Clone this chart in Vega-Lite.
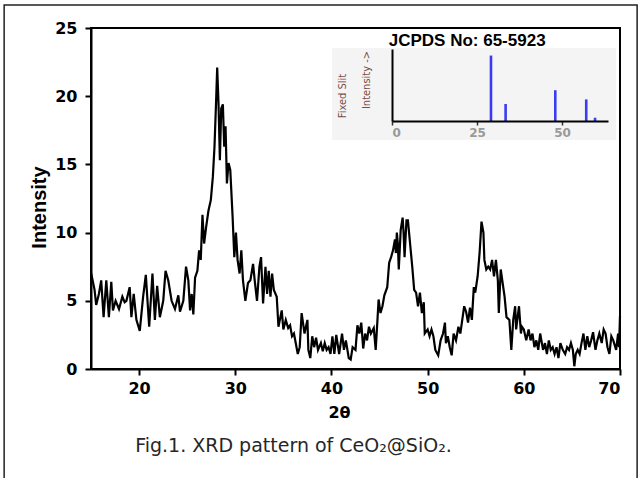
{
  "$schema": "https://vega.github.io/schema/vega-lite/v6.json",
  "width": 529,
  "height": 341,
  "autosize": "none",
  "padding": {"left": 91, "top": 28, "right": 20, "bottom": 109},
  "background": "white",
  "config": {"view": {"stroke": "black", "strokeWidth": 2}},
  "layer": [
    {
      "layer": [
        {
          "data": {"values": [
            {"t":15.02,"i":7.0},{"t":15.37,"i":5.8},{"t":15.54,"i":4.7},{"t":15.82,"i":5.5},{"t":16.06,"i":6.5},{"t":16.31,"i":3.8},{"t":16.59,"i":6.5},{"t":16.86,"i":3.8},{"t":17.11,"i":6.4},{"t":17.28,"i":4.3},{"t":17.56,"i":5.0},{"t":17.91,"i":4.4},{"t":18.26,"i":5.3},{"t":18.5,"i":4.9},{"t":18.68,"i":5.0},{"t":19.02,"i":6.0},{"t":19.2,"i":3.8},{"t":19.44,"i":5.5},{"t":19.72,"i":3.6},{"t":20.07,"i":2.8},{"t":20.42,"i":5.3},{"t":20.7,"i":6.9},{"t":21.05,"i":3.1},{"t":21.39,"i":7.0},{"t":21.64,"i":3.6},{"t":21.88,"i":6.1},{"t":22.16,"i":3.8},{"t":22.51,"i":5.0},{"t":22.75,"i":7.2},{"t":23.03,"i":6.5},{"t":23.38,"i":5.0},{"t":23.73,"i":4.4},{"t":24.08,"i":5.4},{"t":24.25,"i":4.2},{"t":24.6,"i":5.0},{"t":24.88,"i":7.5},{"t":25.12,"i":6.5},{"t":25.3,"i":4.3},{"t":25.47,"i":5.5},{"t":25.64,"i":4.0},{"t":25.82,"i":6.7},{"t":26.06,"i":7.2},{"t":26.24,"i":8.7},{"t":26.41,"i":8.0},{"t":26.59,"i":11.3},{"t":26.76,"i":9.2},{"t":26.97,"i":10.4},{"t":27.21,"i":11.6},{"t":27.46,"i":12.4},{"t":27.67,"i":14.1},{"t":27.84,"i":16.3},{"t":28.01,"i":19.7},{"t":28.12,"i":22.1},{"t":28.26,"i":19.4},{"t":28.4,"i":15.3},{"t":28.54,"i":19.1},{"t":28.71,"i":19.4},{"t":28.85,"i":16.3},{"t":28.99,"i":17.8},{"t":29.13,"i":13.6},{"t":29.3,"i":15.1},{"t":29.48,"i":14.6},{"t":29.72,"i":11.2},{"t":29.9,"i":8.2},{"t":30.07,"i":10.0},{"t":30.24,"i":8.0},{"t":30.45,"i":7.0},{"t":30.63,"i":8.7},{"t":30.8,"i":6.5},{"t":31.05,"i":5.0},{"t":31.32,"i":6.3},{"t":31.57,"i":6.5},{"t":31.85,"i":7.7},{"t":32.02,"i":6.5},{"t":32.26,"i":5.0},{"t":32.51,"i":7.5},{"t":32.68,"i":8.2},{"t":32.89,"i":4.8},{"t":33.14,"i":7.5},{"t":33.31,"i":5.5},{"t":33.48,"i":7.2},{"t":33.66,"i":5.3},{"t":33.83,"i":7.0},{"t":34.01,"i":5.8},{"t":34.31,"i":5.3},{"t":34.49,"i":3.1},{"t":34.83,"i":4.3},{"t":35.0,"i":2.9},{"t":35.25,"i":3.6},{"t":35.5,"i":3.0},{"t":35.7,"i":3.2},{"t":35.9,"i":2.4},{"t":36.1,"i":2.6},{"t":36.5,"i":1.1},{"t":36.7,"i":1.6},{"t":36.9,"i":4.1},{"t":37.2,"i":2.6},{"t":37.5,"i":3.6},{"t":37.6,"i":1.4},{"t":37.8,"i":0.8},{"t":38.0,"i":2.4},{"t":38.2,"i":1.6},{"t":38.4,"i":2.3},{"t":38.6,"i":1.4},{"t":38.9,"i":1.9},{"t":39.1,"i":1.3},{"t":39.3,"i":1.9},{"t":39.5,"i":1.4},{"t":39.7,"i":1.6},{"t":39.9,"i":1.1},{"t":40.1,"i":2.4},{"t":40.3,"i":1.1},{"t":40.5,"i":2.5},{"t":40.8,"i":1.1},{"t":41.1,"i":2.6},{"t":41.3,"i":1.4},{"t":41.5,"i":2.1},{"t":41.8,"i":0.8},{"t":42.0,"i":0.7},{"t":42.2,"i":1.6},{"t":42.5,"i":1.4},{"t":42.7,"i":3.2},{"t":42.9,"i":2.6},{"t":43.1,"i":3.4},{"t":43.3,"i":1.5},{"t":43.5,"i":2.6},{"t":43.7,"i":2.1},{"t":43.9,"i":3.1},{"t":44.1,"i":2.6},{"t":44.4,"i":3.0},{"t":44.6,"i":1.4},{"t":44.8,"i":3.8},{"t":44.9,"i":5.1},{"t":45.1,"i":4.1},{"t":45.3,"i":4.6},{"t":45.5,"i":5.4},{"t":45.8,"i":6.0},{"t":46.0,"i":7.8},{"t":46.2,"i":8.2},{"t":46.4,"i":8.7},{"t":46.6,"i":9.5},{"t":46.7,"i":8.5},{"t":46.8,"i":10.0},{"t":46.9,"i":9.2},{"t":47.0,"i":7.3},{"t":47.2,"i":10.2},{"t":47.4,"i":11.1},{"t":47.5,"i":10.0},{"t":47.6,"i":8.2},{"t":47.8,"i":10.9},{"t":47.95,"i":10.9},{"t":48.2,"i":9.0},{"t":48.4,"i":7.5},{"t":48.6,"i":5.8},{"t":48.8,"i":5.6},{"t":49.0,"i":4.6},{"t":49.2,"i":5.6},{"t":49.4,"i":4.1},{"t":49.6,"i":4.9},{"t":49.7,"i":2.6},{"t":50.0,"i":2.9},{"t":50.2,"i":2.4},{"t":50.4,"i":2.9},{"t":50.6,"i":2.4},{"t":50.8,"i":1.4},{"t":51.1,"i":1.0},{"t":51.35,"i":2.1},{"t":51.6,"i":2.6},{"t":51.8,"i":3.4},{"t":51.9,"i":1.9},{"t":52.1,"i":2.4},{"t":52.3,"i":1.6},{"t":52.5,"i":1.0},{"t":52.7,"i":2.6},{"t":52.95,"i":2.1},{"t":53.2,"i":3.1},{"t":53.4,"i":2.6},{"t":53.6,"i":3.6},{"t":53.8,"i":4.6},{"t":54.0,"i":4.2},{"t":54.2,"i":3.4},{"t":54.4,"i":4.5},{"t":54.6,"i":3.6},{"t":54.8,"i":6.0},{"t":54.95,"i":5.6},{"t":55.2,"i":6.8},{"t":55.4,"i":8.5},{"t":55.6,"i":10.8},{"t":55.8,"i":10.0},{"t":55.9,"i":8.0},{"t":56.1,"i":7.3},{"t":56.3,"i":7.5},{"t":56.5,"i":7.3},{"t":56.7,"i":8.0},{"t":56.9,"i":6.8},{"t":57.1,"i":8.0},{"t":57.3,"i":6.5},{"t":57.4,"i":4.1},{"t":57.6,"i":7.3},{"t":57.8,"i":6.3},{"t":58.0,"i":5.3},{"t":58.2,"i":3.8},{"t":58.5,"i":3.6},{"t":58.7,"i":1.4},{"t":58.9,"i":3.6},{"t":59.1,"i":4.6},{"t":59.2,"i":2.9},{"t":59.5,"i":4.6},{"t":59.7,"i":2.6},{"t":59.8,"i":3.1},{"t":60.0,"i":2.9},{"t":60.25,"i":2.1},{"t":60.5,"i":2.9},{"t":60.7,"i":2.1},{"t":60.9,"i":2.6},{"t":61.1,"i":1.6},{"t":61.3,"i":2.1},{"t":61.5,"i":1.4},{"t":61.7,"i":2.6},{"t":62.0,"i":1.4},{"t":62.2,"i":1.9},{"t":62.4,"i":1.1},{"t":62.6,"i":2.1},{"t":62.8,"i":1.4},{"t":63.0,"i":1.6},{"t":63.2,"i":1.1},{"t":63.4,"i":1.6},{"t":63.6,"i":0.8},{"t":63.8,"i":1.9},{"t":64.05,"i":1.4},{"t":64.3,"i":1.1},{"t":64.5,"i":1.6},{"t":64.7,"i":1.4},{"t":64.9,"i":1.9},{"t":65.1,"i":1.4},{"t":65.25,"i":0.2},{"t":65.4,"i":1.1},{"t":65.6,"i":1.4},{"t":65.8,"i":1.1},{"t":66.0,"i":1.9},{"t":66.2,"i":2.6},{"t":66.4,"i":1.4},{"t":66.6,"i":2.4},{"t":66.8,"i":1.6},{"t":67.0,"i":2.1},{"t":67.2,"i":2.7},{"t":67.45,"i":1.4},{"t":67.65,"i":2.1},{"t":67.85,"i":2.6},{"t":68.1,"i":1.9},{"t":68.3,"i":2.9},{"t":68.5,"i":2.6},{"t":68.7,"i":1.6},{"t":68.9,"i":1.1},{"t":69.1,"i":2.4},{"t":69.3,"i":2.1},{"t":69.6,"i":1.4},{"t":69.8,"i":2.6},{"t":69.9,"i":1.6},{"t":70.0,"i":3.9}
          ]},
          "mark": {"type": "line", "color": "black", "strokeWidth": 2.2},
          "encoding": {
            "x": {"field": "t", "type": "quantitative",
              "scale": {"domain": [15, 70], "nice": false, "zero": false},
              "axis": {"orient": "bottom", "values": [20, 30, 40, 50, 60, 70], "grid": false,
                "domainColor": "black", "domainWidth": 2, "tickColor": "black", "tickWidth": 2, "tickSize": 6,
                "labelFont": "DejaVu Sans", "labelFontSize": 16, "labelFontWeight": "bold", "labelColor": "black", "labelPadding": 5,
                "title": "2θ", "titleFont": "DejaVu Sans", "titleFontSize": 16, "titleFontWeight": "bold", "titleColor": "black",
                "titlePadding": 8, "titleX": 248}},
            "y": {"field": "i", "type": "quantitative",
              "scale": {"domain": [0, 25], "nice": false},
              "axis": {"orient": "left", "values": [0, 5, 10, 15, 20, 25], "grid": false,
                "domainColor": "black", "domainWidth": 2, "tickColor": "black", "tickWidth": 2, "tickSize": 6,
                "labelFont": "DejaVu Sans", "labelFontSize": 16, "labelFontWeight": "bold", "labelColor": "black", "labelPadding": 8,
                "title": "Intensity", "titleFont": "Liberation Sans", "titleFontSize": 20, "titleFontWeight": "bold", "titleColor": "black",
                "titlePadding": 5, "titleY": 179}}
          }
        },
        {
          "data": {"values": [{"caption": "Fig.1. XRD pattern of CeO₂@SiO₂."}]},
          "mark": {"type": "text", "font": "DejaVu Sans", "fontSize": 19, "color": "#262626", "align": "center", "baseline": "alphabetic"},
          "encoding": {
            "x": {"datum": 36.05, "type": "quantitative"},
            "y": {"datum": -6.06, "type": "quantitative"},
            "text": {"field": "caption"}
          }
        },
        {
          "data": {"values": [{}]},
          "mark": {"type": "rect", "fill": null, "stroke": "#222", "strokeWidth": 1.5},
          "encoding": {
            "x": {"datum": 5.97, "type": "quantitative"},
            "x2": {"datum": 71.78},
            "y": {"datum": 26.69, "type": "quantitative"},
            "y2": {"datum": -9}
          }
        }
      ]
    },
    {
      "layer": [
        {
          "data": {"values": [{}]},
          "mark": {"type": "rect", "fill": "#f4f4f4", "stroke": null},
          "encoding": {
            "x": {"datum": -17.6, "type": "quantitative"},
            "x2": {"datum": 65.9},
            "y": {"datum": 111.5, "type": "quantitative"},
            "y2": {"datum": -29}
          }
        },
        {
          "data": {"values": [
            {"p": 29.1, "r": 100},
            {"p": 33.4, "r": 26},
            {"p": 48.0, "r": 47},
            {"p": 57.1, "r": 33},
            {"p": 59.7, "r": 5}
          ]},
          "mark": {"type": "rule", "color": "#3b3bf2", "strokeWidth": 2.6},
          "encoding": {
            "x": {"field": "p", "type": "quantitative",
              "scale": {"domain": [0, 63.5], "range": [301, 517], "nice": false, "zero": false},
              "axis": {"orient": "bottom", "offset": -248, "zindex": 2, "values": [0, 25, 50], "grid": false,
                "domainColor": "black", "domainWidth": 2, "tickColor": "#333", "tickWidth": 1.5, "tickSize": 4,
                "labelFont": "DejaVu Sans", "labelFontSize": 12, "labelFontWeight": "bold", "labelColor": "#999", "labelPadding": 2,
                "title": null}},
            "y": {"field": "r", "type": "quantitative",
              "scale": {"domain": [0, 110], "range": [93, 21], "nice": false},
              "axis": {"orient": "left", "offset": -301, "zindex": 2, "ticks": false, "labels": false, "grid": false,
                "domainColor": "black", "domainWidth": 2, "title": null}},
            "y2": {"datum": 0}
          }
        },
        {
          "data": {"values": [{"label": "JCPDS No: 65-5923"}]},
          "mark": {"type": "text", "font": "Liberation Sans", "fontSize": 17, "fontWeight": "bold", "color": "black", "align": "center", "baseline": "alphabetic"},
          "encoding": {
            "x": {"datum": 22.1, "type": "quantitative"},
            "y": {"datum": 114.6, "type": "quantitative"},
            "text": {"field": "label"}
          }
        },
        {
          "data": {"values": [
            {"label": "Fixed  Slit", "px": -14.4, "py": 38.2},
            {"label": "Intensity ->", "px": -7.35, "py": 62.6}
          ]},
          "mark": {"type": "text", "font": "Liberation Sans Narrow, DejaVu Sans Condensed, Liberation Sans", "fontSize": 11, "color": "#7a4c44", "angle": 270, "align": "center", "baseline": "middle"},
          "encoding": {
            "x": {"field": "px", "type": "quantitative"},
            "y": {"field": "py", "type": "quantitative"},
            "text": {"field": "label"}
          }
        }
      ]
    }
  ],
  "resolve": {"scale": {"x": "independent", "y": "independent"}, "axis": {"x": "independent", "y": "independent"}}
}
